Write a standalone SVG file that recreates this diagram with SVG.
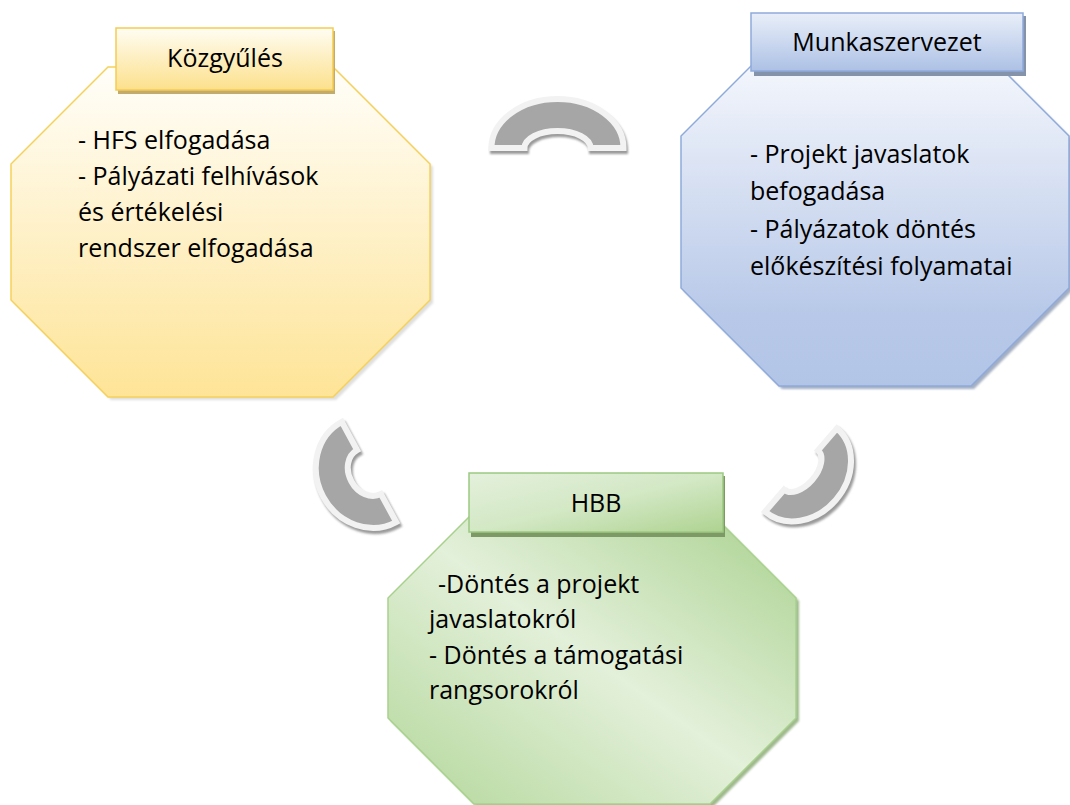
<svg xmlns="http://www.w3.org/2000/svg" width="1070" height="805" viewBox="0 0 1070 805">
  <style>
    text { font-family: "Open Sans", "Noto Sans", "Liberation Sans", sans-serif; font-size: 25px; fill: #000; }
    .lbl { text-anchor: middle; }
    .arc { fill: #a6a6a6; stroke: #f2f2f2; stroke-width: 6; stroke-linejoin: miter; }
    .arcsh { fill: #9a9a9a; stroke: #9a9a9a; stroke-width: 6; }
  </style>
  <defs>
    <linearGradient id="gY" x1="0" y1="0" x2="0" y2="1">
      <stop offset="0" stop-color="#fffefa"/>
      <stop offset="1" stop-color="#fee497"/>
    </linearGradient>
    <linearGradient id="gYl" x1="0" y1="0" x2="0" y2="1">
      <stop offset="0" stop-color="#fffdf3"/>
      <stop offset="1" stop-color="#fce08c"/>
    </linearGradient>
    <linearGradient id="gB" x1="0" y1="0" x2="0" y2="1">
      <stop offset="0" stop-color="#fafbfe"/>
      <stop offset="0.8" stop-color="#b7c8e8"/>
      <stop offset="1" stop-color="#b3c5e7"/>
    </linearGradient>
    <linearGradient id="gBl" x1="0" y1="0" x2="0" y2="1">
      <stop offset="0" stop-color="#e9eff9"/>
      <stop offset="1" stop-color="#adc1e5"/>
    </linearGradient>
    <linearGradient id="gG" x1="1" y1="0" x2="0" y2="1">
      <stop offset="0" stop-color="#a9d18e"/>
      <stop offset="0.5" stop-color="#e3f0da"/>
      <stop offset="1" stop-color="#b3d79a"/>
    </linearGradient>
    <linearGradient id="gGl" x1="0" y1="0" x2="1" y2="1">
      <stop offset="0" stop-color="#e4f0dc"/>
      <stop offset="0.5" stop-color="#d3e8c5"/>
      <stop offset="1" stop-color="#aed391"/>
    </linearGradient>
    <filter id="blur1" x="-10%" y="-10%" width="120%" height="120%">
      <feGaussianBlur stdDeviation="1"/>
    </filter>
    <path id="arcTop" d="M -66,0 A 66 49 0 0 1 66,0 L 33,0 A 33 17 0 0 0 -33,0 Z"/>
    <path id="arcLeft" d="M -57,0 A 57 52 0 0 1 57,0 L 25,0 A 25 20 0 0 0 -25,0 Z"/>
    <path id="arcRight" d="M -55,0 A 55 46 0 0 1 55,0 L 26,0 A 26 15 0 0 0 -26,0 Z"/>
  </defs>

  <rect x="0" y="0" width="1070" height="805" fill="#ffffff"/>

  <g id="node-kozgyules">
    <polygon points="111,70 336,70 433,167 433,303 336,400 111,400 14,303 14,167" fill="#c9c9c9" opacity="0.6" filter="url(#blur1)"/>
    <polygon points="108,67 333,67 430,164 430,300 333,397 108,397 11,300 11,164" fill="url(#gY)" stroke="#f6d15a" stroke-width="1.5"/>
    <rect x="118" y="31" width="217" height="63" fill="#c2ab6c"/>
    <rect x="116" y="28" width="217" height="62" fill="url(#gYl)" stroke="#f5cc52" stroke-width="1.5"/>
    <text class="lbl" x="225" y="67">Közgyűlés</text>
    <text x="78" y="149">- HFS elfogadása</text>
    <text x="78" y="185">- Pályázati felhívások</text>
    <text x="78" y="221">és értékelési</text>
    <text x="78" y="257">rendszer elfogadása</text>
  </g>

  <g id="node-munkaszervezet">
    <polygon points="782,41 974,41 1072,139 1072,291 974,389 782,389 684,291 684,139" fill="#8e9bb3" opacity="0.8" filter="url(#blur1)"/>
    <polygon points="779,38 971,38 1069,136 1069,288 971,386 779,386 681,288 681,136" fill="url(#gB)" stroke="#8eaadb" stroke-width="1.5"/>
    <rect x="754" y="16" width="272" height="60" fill="#8492aa"/>
    <rect x="751" y="13" width="272" height="58" fill="url(#gBl)" stroke="#8eaadb" stroke-width="1.5"/>
    <text class="lbl" x="887" y="51">Munkaszervezet</text>
    <text x="750" y="163">- Projekt javaslatok</text>
    <text x="750" y="200">befogadása</text>
    <text x="750" y="238">- Pályázatok döntés</text>
    <text x="750" y="275">előkészítési folyamatai</text>
  </g>

  <g id="node-hbb">
    <polygon points="477,515 713,515 799,601 799,721 713,807 477,807 391,721 391,601" fill="#88a872" opacity="0.8" filter="url(#blur1)"/>
    <polygon points="474,512 710,512 796,598 796,718 710,804 474,804 388,718 388,598" fill="url(#gG)" stroke="#a9d18e" stroke-width="1.5"/>
    <rect x="471" y="476" width="254" height="61" fill="#7d9a66"/>
    <rect x="469" y="473" width="254" height="59" fill="url(#gGl)" stroke="#9cc981" stroke-width="1.5"/>
    <text class="lbl" x="596" y="512">HBB</text>
    <text x="438" y="593">-Döntés a projekt</text>
    <text x="429" y="628">javaslatokról</text>
    <text x="429" y="664">- Döntés a támogatási</text>
    <text x="429" y="699">rangsorokról</text>
  </g>

  <g id="connectors">
    <g id="arc-top">
      <use href="#arcTop" class="arcsh" transform="translate(559,151)" filter="url(#blur1)"/>
      <use href="#arcTop" class="arc" transform="translate(557.5,148)"/>
    </g>
    <g id="arc-left">
      <use href="#arcLeft" class="arcsh" transform="translate(371,475) rotate(-118.5)" filter="url(#blur1)"/>
      <use href="#arcLeft" class="arc" transform="translate(369,472) rotate(-118.5)"/>
    </g>
    <g id="arc-right">
      <use href="#arcRight" class="arcsh" transform="translate(803,473) rotate(130.8)" filter="url(#blur1)"/>
      <use href="#arcRight" class="arc" transform="translate(801,470) rotate(130.8)"/>
    </g>
  </g>
</svg>
